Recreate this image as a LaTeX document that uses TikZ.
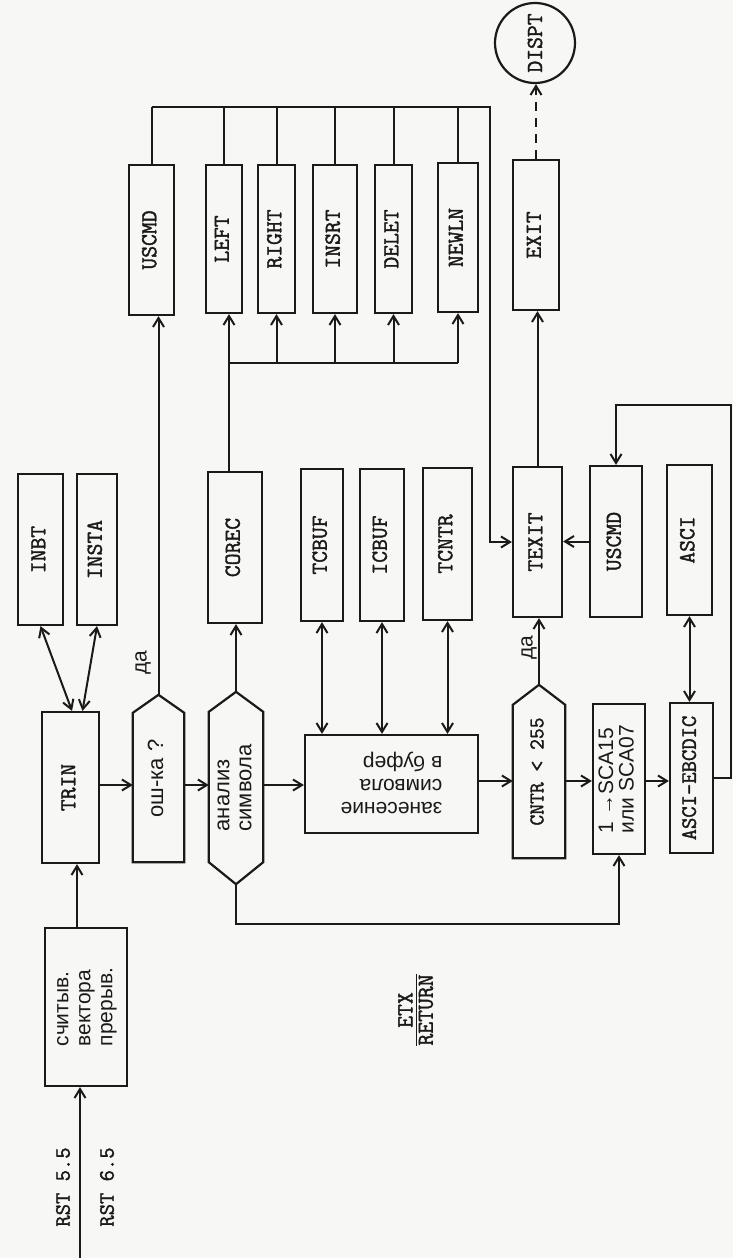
\documentclass[tikz,border=0pt]{standalone}
\usepackage{fontspec}
\usepackage{graphicx}
\setmainfont{Liberation Sans}
\newfontfamily\twf{Latin Modern Mono}[FakeBold=1.6]
\usetikzlibrary{arrows.meta,calc}
\definecolor{inkc}{RGB}{28,26,24}
\definecolor{paper}{RGB}{247,247,245}
\newcommand{\rlab}[1]{\rotatebox{90}{\begin{tabular}{@{}l@{}}#1\end{tabular}}}
\newcommand{\flab}[1]{\rotatebox{180}{\begin{tabular}{@{}l@{}}#1\end{tabular}}}
\begin{document}
\begin{tikzpicture}[x=1pt,y=-1pt,
  box/.style={draw=inkc, line width=2.2pt, rectangle, inner sep=0pt, text=inkc,
    font=\twf\fontsize{23}{24}\selectfont},
  cyrbox/.style={box, font=\fontsize{21}{22}\selectfont},
  shp/.style={inner sep=0pt, text=inkc},
  outline/.style={draw=inkc, line width=2.2pt, line join=miter},
  wire/.style={draw=inkc, line width=2pt},
  conn/.style={wire, -{Straight Barb[length=9pt,width=11pt,line width=2pt]}},
  dconn/.style={wire, {Straight Barb[length=9pt,width=11pt,line width=2pt]}-{Straight Barb[length=9pt,width=11pt,line width=2pt]}},
  lab/.style={inner sep=0pt, text=inkc, font=\twf\fontsize{22}{22}\selectfont},
  cyrlab/.style={inner sep=0pt, text=inkc, font=\fontsize{21}{21}\selectfont}
]
\fill[paper] (0,0) rectangle (733,1258);
\useasboundingbox (0,0) rectangle (733,1258);

% ---- boxes ----
\node[cyrbox, minimum width=82pt, minimum height=158pt] (cvec) at (86,1007) {\rlab{считыв.\\вектора\\прерыв.}};
\node[box, minimum width=57pt, minimum height=151pt] (trin) at (70.5,787.5) {\rlab{TRIN}};
\node[box, minimum width=45pt, minimum height=151pt] (inbt) at (40.5,549.5) {\rlab{INBT}};
\node[box, minimum width=40pt, minimum height=151pt] (insta) at (97,549.5) {\rlab{INSTA}};

\node[shp, font=\fontsize{22}{21}\selectfont, minimum width=51pt, minimum height=167pt] (osh) at (158.5,778.5) {\rlab{ош-ка ?}};
\draw[outline] (osh.south west) -- ($(osh.north west)+(0,18)$) -- (osh.north) -- ($(osh.north east)+(0,18)$) -- (osh.south east) -- cycle;

\node[shp, font=\fontsize{22}{22}\selectfont, minimum width=54pt, minimum height=192pt] (anal) at (236,788) {\rlab{анализ\\символа}};
\draw[outline] (anal.north) -- ($(anal.north east)+(0,20)$) -- ($(anal.south east)+(0,-22)$) -- (anal.south) -- ($(anal.south west)+(0,-22)$) -- ($(anal.north west)+(0,20)$) -- cycle;

\node[box, minimum width=54pt, minimum height=151pt] (corec) at (235,547.5) {\rlab{COREC}};
\node[cyrbox, font=\fontsize{21}{23}\selectfont, minimum width=173pt, minimum height=98pt] (zan) at (391.5,784) {\flab{занесение\\символа\\в буфер}};
\node[box, minimum width=42pt, minimum height=152pt] (tcbuf) at (322,545) {\rlab{TCBUF}};
\node[box, minimum width=44pt, minimum height=152pt] (icbuf) at (382,545) {\rlab{ICBUF}};
\node[box, minimum width=49pt, minimum height=152pt] (tcntr) at (447.5,544) {\rlab{TCNTR}};

\node[shp, font=\twf\fontsize{21}{22}\selectfont, minimum width=52pt, minimum height=173pt] (cntr) at (539,771.5) {\rlab{CNTR < 255}};
\draw[outline] (cntr.south west) -- ($(cntr.north west)+(0,20)$) -- (cntr.north) -- ($(cntr.north east)+(0,20)$) -- (cntr.south east) -- cycle;

\node[cyrbox, font=\fontsize{21}{20}\selectfont, minimum width=52pt, minimum height=150pt] (sca) at (619,779) {\rlab{1 →SCA15\\или SCA07}};
\node[box, font=\twf\fontsize{22}{22}\selectfont, minimum width=43pt, minimum height=150pt] (ae) at (691.5,778) {\rlab{ASCI-EBCDIC}};
\node[box, minimum width=45pt, minimum height=150pt] (asci) at (689.5,540) {\rlab{ASCI}};
\node[box, minimum width=52pt, minimum height=151pt] (uscmdb) at (616,541.5) {\rlab{USCMD}};
\node[box, minimum width=49pt, minimum height=150pt] (texit) at (537.5,542) {\rlab{TEXIT}};
\node[box, minimum width=46pt, minimum height=150pt] (exit) at (536,235) {\rlab{EXIT}};
\node[box, circle, minimum size=80pt] (dispt) at (535,43) {\rotatebox{90}{DISPT}};

\node[box, minimum width=45pt, minimum height=150pt] (uscmd) at (151.5,240) {\rlab{USCMD}};
\node[box, minimum width=36pt, minimum height=148pt] (left) at (224,239) {\rlab{LEFT}};
\node[box, minimum width=37pt, minimum height=148pt] (right) at (276.5,239) {\rlab{RIGHT}};
\node[box, minimum width=44pt, minimum height=148pt] (insrt) at (335,239) {\rlab{INSRT}};
\node[box, minimum width=37pt, minimum height=148pt] (delet) at (393.5,239) {\rlab{DELET}};
\node[box, minimum width=40pt, minimum height=149pt] (newln) at (458,237.5) {\rlab{NEWLN}};

% ---- labels ----
\node[lab] (rst5) at (63,1187) {\rotatebox{90}{RST 5.5}};
\node[lab] (rst6) at (107,1187) {\rotatebox{90}{RST 6.5}};
\node[cyrlab] (da1) at (143,663) {\rotatebox{90}{да}};
\node[cyrlab] (da2) at (529,648) {\rotatebox{90}{да}};
\node[lab, font=\twf\fontsize{23}{23}\selectfont] (etx) at (418,1010) {\rotatebox{90}{\begin{tabular}{@{}c@{}}ETX\\[-3pt]\hline RETURN\end{tabular}}};

% ---- coordinates ----
\coordinate (rstin) at (80,1258);
\coordinate (row1) at (0,785);
\coordinate (row2) at (0,781);
\coordinate (bus) at (0,107);
\coordinate (busR) at (490,107);
\coordinate (br) at (0,363);
\coordinate (lb) at (0,924);
\coordinate (rt) at (731,405);
\coordinate (cl) at ([xshift=-6pt]corec.north);
\coordinate (cv) at ([xshift=-9pt]cvec.north);

% ---- connectors ----
\draw[conn] (rstin) -- (rstin |- cvec.south);
\draw[conn] (cv) -- (cv |- trin.south);
\draw[dconn] (inbt.south) -- ([xshift=1.5pt]trin.north);
\draw[dconn] (insta.south) -- ([xshift=12pt]trin.north);

\draw[conn] (trin.east |- row1) -- (osh.west |- row1);
\draw[conn] (osh.east |- row1) -- (anal.west |- row1);
\draw[conn] (anal.east |- row1) -- (zan.west |- row1);
\draw[conn] (zan.east |- row2) -- (cntr.west |- row2);
\draw[conn] (cntr.east |- row2) -- (sca.west |- row2);
\draw[conn] (sca.east |- row2) -- (ae.west |- row2);

\draw[conn] (osh.north) -- (osh.north |- uscmd.south);
\draw[conn] (anal.north) -- (anal.north |- corec.south);
\draw[conn] (cl) -- (cl |- left.south);
\draw[wire] (cl |- br) -- (newln.south |- br);
\draw[conn] (right.south |- br) -- (right.south);
\draw[conn] (insrt.south |- br) -- (insrt.south);
\draw[conn] (delet.south |- br) -- (delet.south);
\draw[conn] (newln.south |- br) -- (newln.south);

\draw[wire] (uscmd.north) -- (uscmd.north |- bus);
\draw[wire] (left.north) -- (left.north |- bus);
\draw[wire] (right.north) -- (right.north |- bus);
\draw[wire] (insrt.north) -- (insrt.north |- bus);
\draw[wire] (delet.north) -- (delet.north |- bus);
\draw[wire] (newln.north) -- (newln.north |- bus);
\draw[conn] (uscmd.north |- bus) -- (busR) |- (texit.west);

\draw[dconn] (tcbuf.south) -- (tcbuf.south |- zan.north);
\draw[dconn] (icbuf.south) -- (icbuf.south |- zan.north);
\draw[dconn] (tcntr.south) -- (tcntr.south |- zan.north);

\draw[conn] (anal.south) |- (sca.south |- lb) -- (sca.south);

\draw[conn] (cntr.north) -- (cntr.north |- texit.south);
\draw[conn] (uscmdb.west) -- (uscmdb.west -| texit.east);
\draw[conn] (texit.north) -- (texit.north |- exit.south);
\draw[conn, dash pattern=on 9pt off 7pt] (exit.north) -- (exit.north |- dispt.south);

\draw[dconn] (asci.south) -- (asci.south |- ae.north);
\draw[conn] (ae.east) -| (rt) -| (uscmdb.north);
\end{tikzpicture}
\end{document}
